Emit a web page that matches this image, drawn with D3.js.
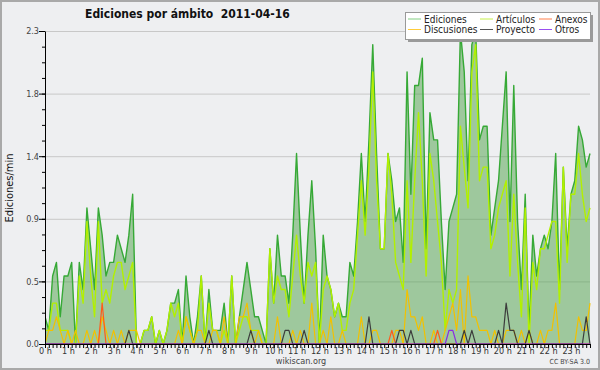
<!DOCTYPE html>
<html>
<head>
<meta charset="utf-8">
<script src="https://cdn.jsdelivr.net/npm/d3@7"></script>
<style>
  body { margin: 0; background: #eeeff1; }
  svg text { font-family: "DejaVu Sans Condensed", "DejaVu Sans", sans-serif; }
</style>
</head>
<body>
<svg id="chart" width="600" height="370"></svg>
<script>
// Tick labels
const hourLabels = ["0 h","1 h","2 h","3 h","4 h","5 h","6 h","7 h","8 h","9 h","10 h","11 h",
  "12 h","13 h","14 h","15 h","16 h","17 h","18 h","19 h","20 h","21 h","22 h","23 h"];
const yTickValues = [0, 0.46, 0.92, 1.38, 1.84, 2.3];
const yTickLabels = ["0.0", "0.5", "0.9", "1.4", "1.8", "2.3"];

// Series: edits per minute, one value per 10-minute slot (144 slots)
const ediciones = [
  0.2,0.1,0.5,0.6,0.2,0.5, 0.5,0.6,0.0,0.6,0.4,1.0,
  0.7,0.4,1.0,0.8,0.5,0.6, 0.6,0.8,0.7,0.6,0.8,1.1,
  0.0,0.0,0.1,0.1,0.2,0.0, 0.1,0.0,0.1,0.3,0.3,0.4,
  0.0,0.5,0.2,0.0,0.2,0.5, 0.0,0.4,0.1,0.1,0.1,0.3,
  0.0,0.5,0.0,0.2,0.4,0.6, 0.4,0.2,0.2,0.1,0.0,0.7,
  0.3,0.8,0.5,0.5,0.3,0.8, 1.4,0.8,0.3,0.8,1.2,0.7,
  0.0,0.8,0.5,0.4,0.2,0.3, 0.2,0.2,0.6,0.5,0.9,1.4,
  0.9,1.5,2.2,1.4,0.7,0.7, 1.4,1.2,0.9,1.0,0.6,2.0,
  1.1,1.9,1.9,2.1,0.7,1.7, 1.5,1.5,0.9,0.4,0.9,1.0,
  1.1,2.3,2.0,1.2,2.2,2.3, 1.5,1.6,1.6,0.8,1.0,1.2,
  1.6,2.0,0.9,1.9,0.9,0.4, 1.1,0.1,0.8,0.5,0.7,0.8,
  0.7,0.9,1.4,0.4,1.3,0.7, 1.1,1.2,1.6,1.5,1.3,1.4
];
const articulos = [
  0.1,0.1,0.3,0.3,0.1,0.1, 0.1,0.0,0.0,0.5,0.3,0.9,
  0.5,0.2,0.9,0.3,0.4,0.3, 0.5,0.6,0.6,0.4,0.5,0.6,
  0.0,0.0,0.1,0.1,0.2,0.0, 0.1,0.0,0.1,0.3,0.2,0.3,
  0.0,0.2,0.1,0.0,0.1,0.5, 0.0,0.3,0.1,0.1,0.0,0.1,
  0.0,0.5,0.0,0.1,0.2,0.2, 0.1,0.1,0.1,0.0,0.0,0.7,
  0.3,0.5,0.4,0.4,0.2,0.5, 0.8,0.5,0.3,0.6,0.5,0.6,
  0.0,0.4,0.5,0.4,0.2,0.3, 0.1,0.1,0.3,0.4,0.8,1.2,
  0.8,1.3,2.0,1.2,0.7,0.7, 1.4,1.1,0.6,0.5,0.4,1.2,
  0.6,1.2,1.7,1.2,0.5,1.4, 1.2,0.9,0.6,0.1,0.4,0.3,
  0.4,1.6,1.3,1.0,2.0,2.2, 1.2,1.3,1.3,0.7,0.8,1.0,
  1.1,1.2,0.5,1.1,0.6,0.2, 1.0,0.0,0.6,0.4,0.7,0.7,
  0.8,0.9,0.9,0.3,1.3,0.6, 1.1,1.1,1.4,1.1,0.9,1.0
];
const anexos = [
  0,0,0,0,0,0, 0,0,0,0,0,0,
  0,0,0,0.3,0,0, 0,0,0,0,0,0,
  0,0,0,0,0,0, 0,0,0,0,0,0,
  0,0,0,0,0,0, 0,0,0,0,0,0,
  0,0,0,0,0,0, 0,0,0,0,0,0,
  0,0,0,0,0,0, 0,0,0,0,0,0,
  0,0,0,0,0,0, 0,0,0,0,0,0,
  0,0,0,0,0,0, 0,0.1,0,0,0,0,
  0,0,0,0,0,0, 0,0.1,0,0,0,0,
  0,0,0,0,0,0, 0,0,0,0,0,0,
  0,0,0,0,0,0, 0,0,0,0,0,0,
  0,0,0,0,0,0, 0,0,0,0,0,0
];
const discusiones = [
  0.0,0.1,0.1,0.2,0.1,0.0, 0.1,0.0,0.1,0.0,0.0,0.1,
  0.0,0.1,0.0,0.2,0.1,0.0, 0.1,0.0,0.1,0.0,0.1,0.1,
  0.1,0.0,0.0,0.0,0.0,0.0, 0.0,0.0,0.0,0.0,0.0,0.1,
  0.0,0.2,0.1,0.0,0.1,0.1, 0.0,0.0,0.1,0.1,0.0,0.2,
  0.0,0.0,0.0,0.2,0.2,0.3, 0.1,0.0,0.1,0.0,0.0,0.0,
  0.0,0.2,0.0,0.0,0.0,0.1, 0.0,0.1,0.0,0.0,0.3,0.0,
  0.0,0.1,0.0,0.2,0.0,0.0, 0.1,0.0,0.0,0.0,0.0,0.2,
  0.0,0.0,0.1,0.1,0.0,0.0, 0.0,0.0,0.1,0.1,0.0,0.4,
  0.2,0.2,0.1,0.2,0.0,0.0, 0.1,0.0,0.0,0.1,0.2,0.3,
  0.1,0.4,0.0,0.5,0.2,0.2, 0.1,0.1,0.1,0.0,0.1,0.0,
  0.0,0.1,0.1,0.1,0.0,0.1, 0.0,0.1,0.0,0.0,0.1,0.0,
  0.1,0.1,0.3,0.0,0.0,0.0, 0.0,0.0,0.2,0.1,0.1,0.3
];
const proyecto = [
  0,0,0,0,0,0, 0,0,0,0,0,0,
  0,0,0,0,0,0, 0,0,0,0,0.1,0,
  0,0,0,0,0,0, 0,0,0,0,0,0,
  0,0,0,0,0,0, 0,0.1,0,0,0,0,
  0,0,0,0,0,0, 0.1,0,0,0,0,0,
  0,0,0,0.1,0.1,0, 0,0,0.1,0,0,0,
  0,0,0,0,0,0, 0,0,0,0,0,0,
  0,0.2,0,0,0,0, 0,0,0,0.1,0.1,0,
  0.1,0,0,0,0,0, 0,0,0,0,0,0,
  0,0,0.1,0,0.1,0, 0,0,0,0,0,0.1,
  0,0.3,0.1,0.1,0,0, 0,0.1,0,0,0,0,
  0,0,0,0,0,0, 0,0,0,0,0.2,0
];
const otros = [
  0,0,0,0,0,0, 0,0,0,0,0,0,
  0,0,0,0,0,0, 0,0,0,0,0,0,
  0,0,0,0,0,0, 0,0,0,0,0,0,
  0,0,0,0,0,0, 0,0,0,0,0,0,
  0,0,0,0,0,0, 0,0,0,0,0,0,
  0,0,0,0,0,0, 0,0,0,0,0,0,
  0,0,0,0,0,0, 0,0,0,0,0,0,
  0,0,0,0,0,0, 0,0,0,0,0,0,
  0,0,0,0,0,0, 0,0,0,0,0.1,0.1,
  0,0,0,0,0,0, 0,0,0,0,0,0,
  0,0,0,0,0,0, 0,0,0,0,0,0,
  0,0,0,0,0,0, 0,0,0,0,0,0
];

const legendNames = ["Ediciones", "Artículos", "Anexos", "Discusiones", "Proyecto", "Otros"];

const svg = d3.select("#chart");
const plot = { left: 45, right: 590, top: 31, bottom: 344 };

// Background and frame
svg.append("rect")
  .attr("x", 1).attr("y", 1).attr("width", 598).attr("height", 368)
  .attr("fill", "#eeeff1").attr("stroke", "#a9a9a9").attr("stroke-width", 2);

// Scales: x is the 10-minute slot index
const x = d3.scaleLinear().domain([0, 143]).range([plot.left, plot.right]);
const y = d3.scaleLinear().domain([0, 2.3]).range([plot.bottom, plot.top]);

// Grid lines
svg.append("g")
  .selectAll("line")
  .data(yTickValues.slice(1))
  .join("line")
  .attr("x1", plot.left).attr("x2", plot.right)
  .attr("y1", d => y(d) + 0.5).attr("y2", d => y(d) + 0.5)
  .attr("stroke", "#c8c8c8").attr("stroke-width", 1);

svg.append("clipPath").attr("id", "clip")
  .append("rect")
  .attr("x", plot.left).attr("y", plot.top - 1)
  .attr("width", plot.right - plot.left + 1).attr("height", plot.bottom - plot.top + 1);

const g = svg.append("g").attr("clip-path", "url(#clip)");

// Ediciones filled area
const area = d3.area()
  .x((d, i) => x(i))
  .y0(y(0))
  .y1(d => y(d));
g.append("path")
  .datum(ediciones)
  .attr("d", area)
  .attr("fill", "rgb(78,162,74)")
  .attr("fill-opacity", 0.5);

const line = d3.line()
  .x((d, i) => x(i))
  .y(d => y(d));

const series = [
  { values: ediciones, color: "#36a936", width: 1.4 },
  { values: articulos, color: "#b2f000", width: 1.4 },
  { values: discusiones, color: "#f2c100", width: 1.2 },
  { values: anexos, color: "#ff5a1a", width: 1.2 },
  { values: proyecto, color: "#3c3c3c", width: 1.2 },
  { values: otros, color: "#8a2be2", width: 1.2 }
];

series.forEach(s => {
  g.append("path")
    .datum(s.values)
    .attr("d", line)
    .attr("fill", "none")
    .attr("stroke", s.color)
    .attr("stroke-width", s.width)
    .attr("stroke-linejoin", "round");
});

// Y axis with minor ticks
svg.append("g")
  .attr("transform", `translate(${plot.left},0)`)
  .call(d3.axisLeft(y).tickValues(d3.range(0, 2.31, 0.115)).tickSize(3).tickFormat(""))
  .call(a => a.select(".domain").remove());

svg.append("g")
  .attr("transform", `translate(${plot.left},0)`)
  .call(d3.axisLeft(y).tickValues(yTickValues).tickSize(6).tickSizeOuter(0)
    .tickFormat((d, i) => yTickLabels[i]))
  .call(a => a.selectAll("text")
    .attr("x", -6).attr("dy", "0.32em")
    .style("font-size", "9px").attr("fill", "#444"));

// X axis: ticks every 10 minutes, labels every hour
svg.append("g")
  .attr("transform", `translate(0,${plot.bottom})`)
  .call(d3.axisBottom(x).tickValues(d3.range(0, 144)).tickSize(4).tickSizeOuter(0).tickFormat(""));

svg.append("g")
  .attr("transform", `translate(0,${plot.bottom})`)
  .call(d3.axisBottom(x).tickValues(hourLabels.map((h, i) => i * 6)).tickSize(4).tickSizeOuter(0)
    .tickFormat((d, i) => hourLabels[i]))
  .call(a => a.selectAll("text")
    .attr("y", 10).attr("dy", 0)
    .style("font-size", "9px").attr("fill", "#333"));

svg.selectAll(".domain").attr("stroke", "#000");
svg.selectAll(".tick line").attr("stroke", "#000");

// Titles
svg.append("text")
  .attr("x", 85).attr("y", 18)
  .attr("font-weight", "bold")
  .style("font-size", "12px")
  .attr("fill", "#111")
  .attr("xml:space", "preserve")
  .text("Ediciones por ámbito  2011-04-16");

svg.append("text")
  .attr("transform", "translate(13,188) rotate(-90)")
  .attr("text-anchor", "middle")
  .style("font-size", "11px")
  .attr("fill", "#111")
  .text("Ediciones/min");

svg.append("text")
  .attr("x", 301).attr("y", 364)
  .attr("text-anchor", "middle")
  .style("font-size", "9px")
  .attr("fill", "#444")
  .text("wikiscan.org");

svg.append("text")
  .attr("x", 590).attr("y", 364)
  .attr("text-anchor", "end")
  .style("font-size", "7px")
  .attr("fill", "#444")
  .text("CC BY-SA 3.0");

// Legend
const legendColors = ["#82cf82", "#c6f04a", "#ff7f4a", "#ffcc3a", "#555555", "#9a4ff0"];
const legend = svg.append("g");
legend.append("rect")
  .attr("x", 408).attr("y", 15).attr("width", 185).attr("height", 27)
  .attr("fill", "#9a9a9a");
legend.append("rect")
  .attr("x", 405.5).attr("y", 12.5).attr("width", 185).attr("height", 27)
  .attr("fill", "#fff").attr("stroke", "#999");

const colX = [408, 480, 539];
const rowY = [19, 29.5];
legendNames.forEach((name, i) => {
  const cx = colX[i % 3], cy = rowY[Math.floor(i / 3)];
  legend.append("line")
    .attr("x1", cx).attr("x2", cx + 13)
    .attr("y1", cy).attr("y2", cy)
    .attr("stroke", legendColors[i]).attr("stroke-width", 1);
  legend.append("text")
    .attr("x", cx + 16).attr("y", cy + 3.5)
    .style("font-size", "10px")
    .attr("fill", "#222")
    .text(name);
});
</script>
</body>
</html>
